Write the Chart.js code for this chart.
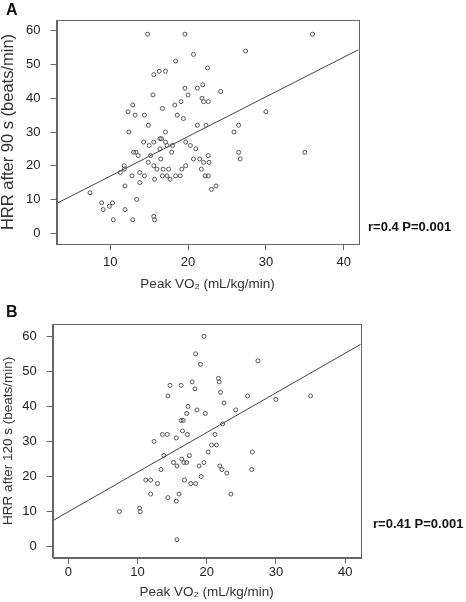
<!DOCTYPE html>
<html>
<head>
<meta charset="utf-8">
<style>
    body { margin: 0; background: #fff; font-family: 'Liberation Sans', Arial, sans-serif; }
    #wrap { position: relative; width: 466px; height: 602px; }
    canvas { position: absolute; left: 0; display: block; }
    .tag { position: absolute; font-weight: bold; color: #111; white-space: nowrap; }
</style>
</head>
<body>
<div id='wrap'>
    <canvas id='chartA' width='466' height='300' style='top:0'></canvas>
    <canvas id='chartB' width='466' height='302' style='top:300px'></canvas>
    <div class='tag' style='left:6px;top:2px;font-size:16px;line-height:16px'>A</div>
    <div class='tag' style='left:6px;top:304px;font-size:16px;line-height:16px'>B</div>
    <div class='tag' style='left:368px;top:220px;font-size:13px;line-height:14px'>r=0.4 P=0.001</div>
    <div class='tag' style='left:373px;top:517px;font-size:13px;line-height:14px'>r=0.41 P=0.001</div>
</div>
<script src='https://cdn.jsdelivr.net/npm/chart.js'></script>
<script>
    // panel A: HRR after 90 s vs peak VO2
    let vo2A = [14.8, 19.6, 36.0, 27.4, 20.7, 18.4, 22.5, 15.6, 16.3, 17.1, 19.6, 21.2, 21.9, 24.2, 15.5, 20.0,
        21.8, 22.0, 22.6, 19.1, 18.3, 12.9, 16.7, 12.3, 30.0, 13.2, 14.4, 18.6, 19.4, 14.9, 21.2, 22.3, 26.5,
        12.4, 17.1, 25.9, 16.4, 16.6, 14.3, 15.6, 17.1, 19.7, 15.0, 17.3, 18.0, 20.3, 16.4, 21.0, 13.0, 13.3,
        26.5, 35.0, 17.9, 13.6, 15.2, 22.6, 16.5, 20.7, 21.5, 26.7, 14.9, 22.0, 22.7, 11.8, 15.6, 19.7, 11.8,
        16.0, 16.8, 17.5, 19.2, 21.7, 11.3, 13.8, 12.8, 14.4, 16.7, 17.3, 18.4, 19.0, 22.2, 22.6, 15.7, 17.7,
        11.9, 13.8, 23.6, 23.0, 7.4, 13.4, 8.9, 10.3, 9.1, 9.9, 11.9, 10.4, 12.9, 15.6, 15.7];
    let hrr90 = [59, 59, 59, 54, 53, 51, 49, 47, 48, 48, 43, 43, 44, 42, 41, 41,
        40, 39, 39, 39, 38, 38, 37, 36, 36, 35, 35, 35, 34, 32, 32, 32, 32,
        30, 30, 30, 28, 28, 27, 27, 27, 27, 26, 26, 26, 26, 25, 25, 24, 24,
        24, 24, 24, 23, 23, 23, 22, 22, 22, 22, 21, 21, 21, 20, 20, 20, 19,
        19, 19, 19, 19, 19, 18, 18, 17, 17, 17, 17, 17, 17, 17, 17, 16, 16,
        14, 15, 14, 13, 12, 10, 9, 9, 7, 8, 7, 4, 4, 5, 4];
    let fitXA = [3.1, 41.9];
    let fitYA = [8.8, 54.4];

    // panel B: HRR after 120 s vs peak VO2
    let vo2B = [19.6, 18.4, 19.1, 27.4, 21.7, 21.8, 17.9, 14.7, 16.3, 18.3, 22.0, 14.4, 25.9, 35.0, 30.0, 22.5,
        17.3, 18.6, 24.2, 17.1, 19.8, 16.3, 16.6, 22.3, 16.5, 13.6, 14.3, 17.2, 21.2, 15.6, 12.4, 20.7, 21.4,
        20.2, 26.6, 13.8, 17.5, 16.4, 15.2, 16.7, 17.1, 19.6, 15.7, 18.9, 21.9, 13.4, 22.2, 26.5, 22.9, 19.2,
        11.2, 11.9, 16.8, 12.9, 17.7, 18.4, 11.9, 16.0, 23.5, 14.4, 15.6, 7.4, 10.3, 10.4, 15.7];
    let hrr120 = [60, 55, 52, 53, 48, 47, 47, 46, 46, 45, 44, 43, 43, 43, 42, 41,
        40, 39, 39, 38, 38, 36, 36, 35, 33, 32, 32, 32, 32, 31, 30, 29, 29,
        27, 27, 26, 26, 25, 24, 24, 24, 24, 23, 23, 23, 22, 22, 22, 21, 20,
        19, 19, 19, 18, 18, 18, 15, 15, 15, 14, 13, 10, 11, 10, 2];
    let fitXB = [-2.25, 42.25];
    let fitYB = [7.4, 57.7];

    let yTicks = [0, 10, 20, 30, 40, 50, 60];
    let xTicksA = [10, 20, 30, 40];
    let xTicksB = [0, 10, 20, 30, 40];

    Chart.defaults.font.family = "'Liberation Sans', Arial, sans-serif";
    Chart.defaults.color = '#222';

    const boxPlugin = {
        id: 'box',
        afterDraw(chart) {
            const a = chart.chartArea;
            const ctx = chart.ctx;
            ctx.save();
            ctx.strokeStyle = '#666';
            ctx.lineWidth = 1;
            ctx.strokeRect(Math.round(a.left) + 0.5, Math.round(a.top) + 0.5,
                Math.round(a.right - a.left), Math.round(a.bottom - a.top));
            ctx.restore();
        }
    };

    function pairs(xs, ys) {
        let out = [];
        for (let i = 0; i < xs.length; i++) {
            out.push({x: xs[i], y: ys[i]});
        }
        return out;
    }

    function makeChart(id, p) {
        return new Chart(document.getElementById(id), {
            type: 'scatter',
            data: {
                datasets: [{
                    data: pairs(p.xs, p.ys),
                    pointStyle: 'circle',
                    pointRadius: 2,
                    pointBorderWidth: 1,
                    borderColor: '#555',
                    backgroundColor: 'rgba(0,0,0,0)',
                }, {
                    data: pairs(p.fitX, p.fitY),
                    showLine: true,
                    pointRadius: 0,
                    borderColor: '#444',
                    borderWidth: 1,
                }],
            },
            plugins: [boxPlugin],
            options: {
                responsive: false,
                animation: false,
                events: [],
                layout: {padding: {left: 0, right: p.right, top: p.top, bottom: 0}},
                plugins: {legend: {display: false}, tooltip: {enabled: false}},
                scales: {
                    x: {
                        type: 'linear',
                        min: p.xmin,
                        max: p.xmax,
                        afterBuildTicks: (axis) => { axis.ticks = p.xTicks.map(v => ({value: v})); },
                        afterFit: (axis) => { axis.height = p.xh; },
                        ticks: {font: {size: 13}, padding: p.tickPad, maxRotation: 0},
                        grid: {drawOnChartArea: false, tickLength: 6, color: '#666'},
                        border: {color: '#666'},
                        title: {
                            display: true,
                            text: 'Peak VO\u2082 (mL/kg/min)',
                            font: {size: 13.5},
                            color: '#333',
                            padding: {top: 0, bottom: p.titlePad},
                        },
                    },
                    y: {
                        min: p.ymin,
                        max: p.ymax,
                        afterBuildTicks: (axis) => { axis.ticks = yTicks.map(v => ({value: v})); },
                        afterFit: (axis) => { axis.width = p.yw; },
                        ticks: {font: {size: 13}, padding: 10},
                        grid: {drawOnChartArea: false, tickLength: 6, color: '#666'},
                        border: {color: '#666'},
                        title: {
                            display: true,
                            text: p.ytitle,
                            font: {size: p.ytitleSize, lineHeight: 1},
                            color: '#333',
                            padding: {top: p.ytitlePad, bottom: 0},
                        },
                    },
                },
            },
        });
    }

    makeChart('chartA', {
        xs: vo2A, ys: hrr90, fitX: fitXA, fitY: fitYA, xTicks: xTicksA,
        xmin: 3.1, xmax: 41.9, ymin: -3.2, ymax: 63.2,
        right: 107.5, top: 20, yw: 56.5, xh: 56, tickPad: 5, titlePad: 8,
        ytitle: 'HRR after 90 s (beats/min)', ytitleSize: 16.5, ytitlePad: 0,
    });

    makeChart('chartB', {
        xs: vo2B, ys: hrr120, fitX: fitXB, fitY: fitYB, xTicks: xTicksB,
        xmin: -2.25, xmax: 42.25, ymin: -3.14, ymax: 63.5,
        right: 105.3, top: 24, yw: 52.7, xh: 44.3, tickPad: 1, titlePad: 2,
        ytitle: 'HRR after 120 s (beats/min)', ytitleSize: 13.5, ytitlePad: 1.5,
    });
</script>
</body>
</html>
